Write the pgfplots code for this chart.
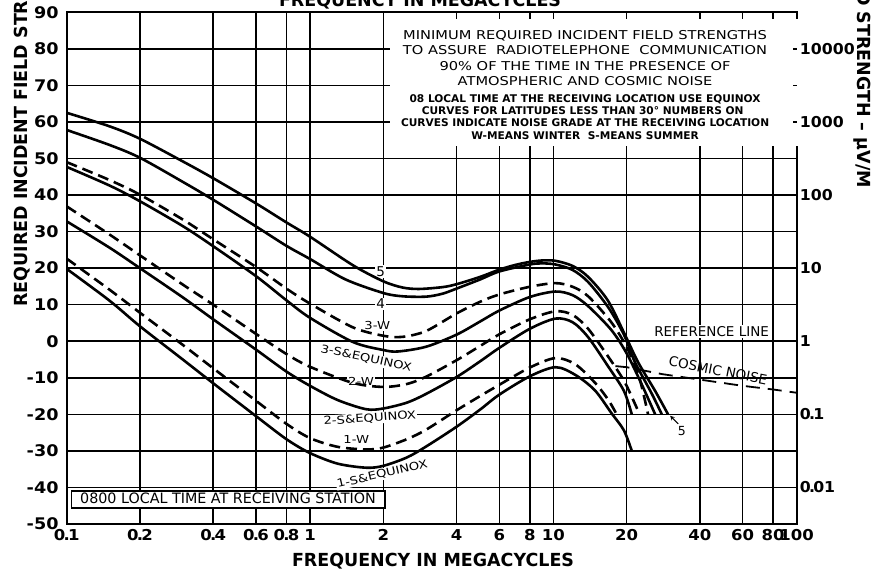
\documentclass[border=0pt]{standalone}
\usepackage{fontspec}
\setmainfont{DejaVu Sans}
\newfontfamily\tickfont{DejaVu Sans}[FakeStretch=1.2]
\newfontfamily\numfont{DejaVu Sans Bold}[FakeStretch=1.1]
\newfontfamily\rnumfont{DejaVu Sans Bold}[FakeStretch=1.05]
\newfontfamily\labfont{DejaVu Sans Bold}[FakeStretch=0.97]
\usepackage{pgfplots}
\pgfplotsset{compat=1.18}
\newcommand\dt{\kern-1.8pt.\kern-1.8pt}

\pgfplotsset{
  solidc/.style={black, line width=2.6pt, smooth, tension=0.5, mark=none},
  dashc/.style={solidc, dash pattern=on 11pt off 6pt},
}
\tikzset{
  curvelab/.style={font=\tickfont\fontsize{11}{11}\selectfont, fill=white, inner sep=1pt},
}

\begin{document}
\begin{tikzpicture}
\begin{axis}[
  scale only axis, width=730pt, height=511.7pt,
  xmode=log, xmin=0.1, xmax=100,
  ymin=-50, ymax=90,
  xtick={0.1,0.2,0.4,0.6,0.8,1,2,4,6,8,10,20,40,60,80,100},
  xticklabels={0\dt1,0\dt2,0\dt4,0\dt6,0\dt8,1,2,4,6,8,10,20,40,60,80,100},
  ytick={-50,-40,...,90},
  yticklabels={-50,-40,-30,-20,-10,0,10,20,30,40,50,60,70,80,90},
  grid=major,
  major grid style={black, line width=1.5pt},
  axis line style={line width=2.2pt},
  major tick length=0pt, minor tick length=0pt,
  xticklabel style={font=\numfont\fontsize{15}{15}\selectfont, inner sep=0pt, anchor=north, yshift=-5pt},
  yticklabel style={font=\numfont\fontsize{16}{16}\selectfont, inner sep=0pt, anchor=east, xshift=-8pt},
  clip=false,
]
\coordinate (bl) at (rel axis cs:0,0);
\coordinate (tr) at (rel axis cs:1,1);

% white panels with the notes
\fill[white] (axis cs:2.13,53.3) rectangle (axis cs:101.5,88.1);
\draw[line width=1.5pt] (axis cs:100,80) -- (axis cs:96.9,80);
\draw[line width=1.5pt] (axis cs:100,70) -- (axis cs:96.9,70);
\draw[line width=1.5pt] (axis cs:100,60) -- (axis cs:96.9,60);
\begin{scope}[every node/.style={inner sep=0pt, anchor=base, font=\tickfont\fontsize{12.2}{12.2}\selectfont}]
\node at (axis cs:13.5,82.6) {MINIMUM REQUIRED INCIDENT FIELD STRENGTHS};
\node at (axis cs:13.5,78.4) {TO ASSURE \ RADIOTELEPHONE \ COMMUNICATION};
\node at (axis cs:13.5,74.2) {90\% OF THE TIME IN THE PRESENCE OF};
\node at (axis cs:13.5,69.9) {ATMOSPHERIC AND COSMIC NOISE};
\end{scope}
\begin{scope}[every node/.style={inner sep=0pt, anchor=base, font=\bfseries\fontsize{10.6}{10.6}\selectfont}]
\node at (axis cs:13.5,65.4) {08 LOCAL TIME AT THE RECEIVING LOCATION USE EQUINOX};
\node at (axis cs:13.2,62.1) {CURVES FOR LATITUDES LESS THAN 30° NUMBERS ON};
\node at (axis cs:13.5,58.7) {CURVES INDICATE NOISE GRADE AT THE RECEIVING LOCATION};
\node at (axis cs:13.5,55.3) {W-MEANS WINTER \ S-MEANS SUMMER};
\end{scope}

\draw[fill=white, line width=1.6pt] (axis cs:0.1048,-45.7) rectangle (axis cs:2.034,-40.9);
\node[anchor=base, inner sep=0pt, font=\fontsize{14.3}{14.3}\selectfont] at (axis cs:0.46,-44.5) {0800 LOCAL TIME AT RECEIVING STATION};

% curve labels
\node[font=\fontsize{13.5}{13.5}\selectfont, fill=white, inner sep=1.5pt] at (axis cs:1.95,19) {5};
\node[font=\fontsize{13.5}{13.5}\selectfont, fill=white, inner sep=1.5pt] at (axis cs:1.95,10.2) {4};
\node[curvelab] at (axis cs:1.89,4.2) {3-W};
\node[curvelab, rotate=-12] at (axis cs:1.70,-4.7) {3-S\&EQUINOX};
\node[curvelab] at (axis cs:1.62,-10.9) {2-W};
\node[curvelab, rotate=4] at (axis cs:1.76,-21.1) {2-S\&EQUINOX};
\node[curvelab] at (axis cs:1.55,-26.9) {1-W};
\node[curvelab, rotate=13] at (axis cs:1.98,-36.4) {1-S\&EQUINOX};
\node[font=\fontsize{13.5}{13.5}\selectfont, fill=white, inner sep=1.5pt] at (axis cs:44.7,2.7) {REFERENCE LINE};
\node[font=\fontsize{13.5}{13.5}\selectfont, rotate=-11, inner sep=1pt] at (axis cs:47.5,-8.0) {COSMIC NOISE};
\node[font=\fontsize{12.5}{12.5}\selectfont, inner sep=0pt] at (axis cs:33.7,-24.7) {5};
\draw[-stealth, line width=1pt] (axis cs:32.6,-22.6) -- (axis cs:30.2,-20.4);

% noise grade 5
\addplot[solidc] coordinates {
 (0.1,62.5) (0.15,58.8) (0.2,55.4) (0.3,49.2) (0.4,44.6) (0.6,37.7) (0.8,32.5) (1,28.6)
 (1.5,20.8) (2,16.4) (2.4,14.7) (2.8,14.3) (3.5,14.8) (4,15.6) (5,17.6) (6,19.6) (7,20.9)
 (8,21.7) (9,22.1) (10.2,22) (12,20.6) (13.9,17.6) (16.8,11) (20,0.8) (22.4,-6)
 (26.2,-13.6) (29.6,-20)};
% noise grade 4
\addplot[solidc] coordinates {
 (0.1,57.8) (0.15,53.7) (0.2,50.2) (0.3,43.6) (0.4,38.7) (0.6,31.4) (0.8,26.1) (1,22.5)
 (1.4,16.9) (2,13.2) (2.4,12.3) (3,12.2) (3.5,13) (4,14.4) (5,16.9) (6,19.1) (8,21)
 (9,21.3) (10.2,21) (12,19.5) (13.9,16.2) (16.8,9.3) (19.5,1.8) (21.6,-5.6) (25.4,-14.4)
 (27.9,-20)};
% 3-W
\addplot[dashc] coordinates {
 (0.1,49) (0.15,44.1) (0.2,40.1) (0.3,33.3) (0.4,27.9) (0.6,20.3) (0.8,14.4) (1,10.3)
 (1.5,3.8) (2,1.5) (2.4,1.2) (3,2.8) (4,7.6) (5,10.8) (6,12.8) (8,14.9) (10.2,15.9)
 (12,14.9) (13.9,12.3) (17.3,5.2) (20,-1.6) (22.4,-9.2) (24.5,-20)};
% 3-S & equinox
\addplot[solidc] coordinates {
 (0.1,47.7) (0.15,42.6) (0.2,38.3) (0.3,31.5) (0.4,26) (0.6,17.8) (0.8,11.2) (1,6.4)
 (1.5,-0.2) (2,-2.4) (2.3,-2.8) (3,-1.5) (4,1.8) (5,5.4) (6,8.4) (8,12.1) (10.2,13.6)
 (12,12.6) (13.9,9.6) (17.3,3.1) (20,-3.3) (23,-11.6) (26.2,-20)};
% 2-W
\addplot[dashc] coordinates {
 (0.1,36.9) (0.15,29.2) (0.2,23.5) (0.3,15.5) (0.4,10) (0.6,2) (0.8,-3.5) (1,-7)
 (1.5,-11.4) (2,-12.5) (2.5,-11.7) (3,-9.7) (4,-5.2) (5,-1.3) (6,1.9) (8,6) (10.2,8.2)
 (12,7.2) (13.9,3.4) (16.8,-4.2) (19.5,-10.8) (21.6,-17) (22.6,-20)};
% 2-S & equinox
\addplot[solidc] coordinates {
 (0.1,32.8) (0.15,25.6) (0.2,20) (0.3,12) (0.4,6) (0.6,-2.3) (0.8,-8.3) (1,-12.2)
 (1.3,-16.1) (1.7,-18.6) (2,-18.4) (2.5,-16.8) (3,-14.4) (4,-9.8) (5,-5.5) (6,-1.8)
 (8,3.4) (10.2,6.2) (12,5.2) (13.9,1.1) (16.8,-6.9) (19.5,-13.6) (21,-20)};
% 1-W
\addplot[dashc] coordinates {
 (0.1,22.6) (0.15,14.1) (0.2,7.8) (0.3,-1) (0.4,-7.4) (0.6,-16.3) (0.8,-22.6) (1,-26.5)
 (1.3,-28.9) (1.7,-29.6) (2,-29.1) (2.5,-26.8) (3,-24.2) (4,-18.9) (5,-15) (6,-11.9)
 (8,-7.2) (10.2,-4.6) (12.3,-6.3) (14.8,-11.3) (16.8,-16) (18.2,-20)};
% 1-S & equinox
\addplot[solidc] coordinates {
 (0.1,19.8) (0.15,11.1) (0.2,4.1) (0.3,-5) (0.4,-11.5) (0.6,-20.5) (0.8,-26.8) (1,-30.6)
 (1.3,-33.5) (1.7,-34.6) (2,-34.1) (2.5,-31.8) (3,-28.8) (4,-23.4) (5,-18.7) (6,-14.6)
 (8,-9.6) (10.2,-7.1) (12.3,-9.2) (14.8,-13.4) (17.3,-19.6) (19.5,-24.4) (21,-30)};
% cosmic noise
\addplot[black, line width=1.8pt, mark=none, dash pattern=on 14pt off 8pt] coordinates {
 (18,-6.8) (20,-7.1) (28,-9) (40,-10.5) (60,-12.2) (80,-13.2) (100,-14.1)};
\end{axis}

\begin{axis}[
  scale only axis, width=730pt, height=511.7pt,
  xmode=log, xmin=0.1, xmax=100,
  ymode=log, ymin=0.0031623, ymax=31622.8,
  axis x line=none, axis y line*=right,
  y axis line style={draw=none},
  ytick={0.01,0.1,1,10,100,1000,10000},
  yticklabels={0\dt01,0\dt1,1,10,100,1000,10000},
  major tick length=0pt, minor tick length=0pt,
  yticklabel style={font=\rnumfont\fontsize{15}{15}\selectfont, inner sep=0pt, anchor=west, xshift=3pt},
]
\addplot[draw=none] coordinates {(1,1)};
\end{axis}

\begin{scope}[every node/.style={inner sep=0pt, font=\labfont\fontsize{18}{18}\selectfont}]
\node[anchor=base] at ([shift={(366.3pt,-42.7pt)}]bl) {FREQUENCY IN MEGACYCLES};
\node[anchor=base] at ([shift={(353.3pt,517pt)}]bl) {FREQUENCY IN MEGACYCLES};
\node[anchor=base west, rotate=90] at ([shift={(-39.7pt,217pt)}]bl) {REQUIRED INCIDENT FIELD STRENGTH — DB ABOVE 1 µV/M};
\node[anchor=base east, rotate=-90] at ([shift={(790.3pt,336pt)}]bl) {FIELD STRENGTH – µV/M};
\end{scope}

\pgfresetboundingbox
\path[use as bounding box] ([shift={(-66.7pt,-48pt)}]bl) rectangle ([shift={(77.3pt,12.3pt)}]tr);
\end{tikzpicture}
\end{document}
